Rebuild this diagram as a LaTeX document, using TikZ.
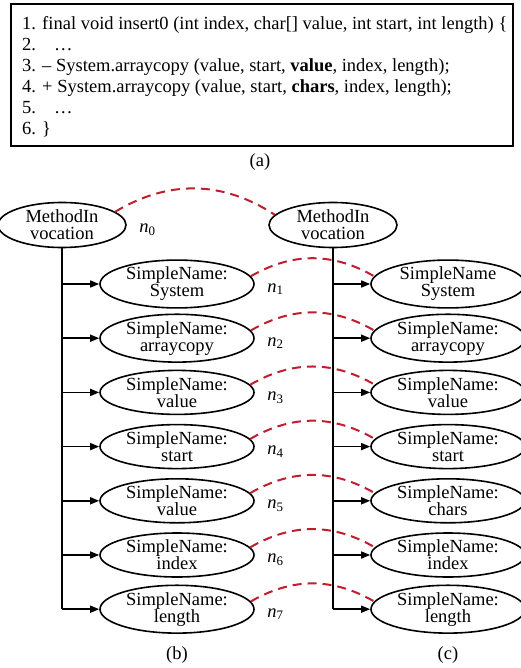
\documentclass[tikz,border=0pt]{standalone}
\usepackage{fontspec}
\setmainfont{Liberation Serif}
\usetikzlibrary{shapes.geometric,arrows.meta}
\definecolor{linkred}{RGB}{190,30,45}
\begin{document}
\begin{tikzpicture}
[x=1pt, y=-1pt, node distance=54.2pt, font=\fontsize{18.5}{17}\selectfont, label distance=9pt]
\tikzstyle{root}=[ellipse, draw, line width=1.6pt, inner sep=0pt, minimum width=128pt, minimum height=45pt, align=center]
\tikzstyle{leaf}=[ellipse, draw, line width=1.6pt, inner sep=0pt, minimum width=154pt, minimum height=44pt, align=center]
\tikzstyle{nlab}=[yshift=-5pt]
\tikzstyle{link}=[linkred, line width=2pt, dash pattern=on 9pt off 6pt]
\tikzstyle{branch}=[line width=1.5pt, -{Triangle[length=9pt,width=7pt]}]
\useasboundingbox (0,0) rectangle (521,668);

% (a) the code
\node (box)	[draw, line width=1.6pt, anchor=north west, minimum width=502pt, minimum height=142pt] at (10,3) {};
\node (code)	[anchor=north west, align=left, inner sep=0pt, font=\fontsize{18.5}{21}\selectfont] at (22,16)
	{1. final void insert0 (int index, char[] value, int start, int length) \{\\
	 2.\hspace{18pt}…\\
	 3. – System.arraycopy (value, start, \textbf{value}, index, length);\\
	 4. + System.arraycopy (value, start, \textbf{chars}, index, length);\\
	 5.\hspace{18pt}…\\
	 6. \}};
\node (capa)	at (260,162) {(a)};

% (b) left tree
\node[root]	(L0)	at (62,225)	[label={[nlab]right:\textit{n}\textsubscript{0}}]	{MethodIn\\vocation};
\node[leaf]	(L1)	at (177,284)	[label={[nlab]right:\textit{n}\textsubscript{1}}]	{SimpleName:\\System};
\node[leaf]	(L2)	[below of=L1,	label={[nlab]right:\textit{n}\textsubscript{2}}]	{SimpleName:\\arraycopy};
\node[leaf]	(L3)	[below of=L2,	label={[nlab]right:\textit{n}\textsubscript{3}}]	{SimpleName:\\value};
\node[leaf]	(L4)	[below of=L3,	label={[nlab]right:\textit{n}\textsubscript{4}}]	{SimpleName:\\start};
\node[leaf]	(L5)	[below of=L4,	label={[nlab]right:\textit{n}\textsubscript{5}}]	{SimpleName:\\value};
\node[leaf]	(L6)	[below of=L5,	label={[nlab]right:\textit{n}\textsubscript{6}}]	{SimpleName:\\index};
\node[leaf]	(L7)	[below of=L6,	label={[nlab]right:\textit{n}\textsubscript{7}}]	{SimpleName:\\length};
\node		(capb)	at (177,655) {(b)};

% (c) right tree
\node[root]	(R0)	at (333,225)	{MethodIn\\vocation};
\node[leaf]	(R1)	at (448,284)	{SimpleName\\System};
\node[leaf]	(R2)	[below of=R1]	{SimpleName:\\arraycopy};
\node[leaf]	(R3)	[below of=R2]	{SimpleName:\\value};
\node[leaf]	(R4)	[below of=R3]	{SimpleName:\\start};
\node[leaf]	(R5)	[below of=R4]	{SimpleName:\\chars};
\node[leaf]	(R6)	[below of=R5]	{SimpleName:\\index};
\node[leaf]	(R7)	[below of=R6]	{SimpleName:\\length};
\node		(capc)	at (448,655) {(c)};

\draw [line width=1.5pt] (L0.south)--(L0.south |- L7.west);
\draw [branch] (L0.south |- L1.west)--(L1.west);
\draw [branch] (L0.south |- L2.west)--(L2.west);
\draw [branch] (L0.south |- L3.west)--(L3.west);
\draw [branch] (L0.south |- L4.west)--(L4.west);
\draw [branch] (L0.south |- L5.west)--(L5.west);
\draw [branch] (L0.south |- L6.west)--(L6.west);
\draw [branch] (L0.south |- L7.west)--(L7.west);

\draw [line width=1.5pt] (R0.south)--(R0.south |- R7.west);
\draw [branch] (R0.south |- R1.west)--(R1.west);
\draw [branch] (R0.south |- R2.west)--(R2.west);
\draw [branch] (R0.south |- R3.west)--(R3.west);
\draw [branch] (R0.south |- R4.west)--(R4.west);
\draw [branch] (R0.south |- R5.west)--(R5.west);
\draw [branch] (R0.south |- R6.west)--(R6.west);
\draw [branch] (R0.south |- R7.west)--(R7.west);

% mappings
\draw [link] (L0.14) to[bend left=32] (R0.170);
\draw [link] (L1.6) to[bend left=30] (R1.174);
\draw [link] (L2.6) to[bend left=30] (R2.174);
\draw [link] (L3.6) to[bend left=30] (R3.174);
\draw [link] (L4.6) to[bend left=30] (R4.174);
\draw [link] (L5.6) to[bend left=30] (R5.174);
\draw [link] (L6.6) to[bend left=30] (R6.174);
\draw [link] (L7.6) to[bend left=30] (R7.174);

\end{tikzpicture}
\end{document}
